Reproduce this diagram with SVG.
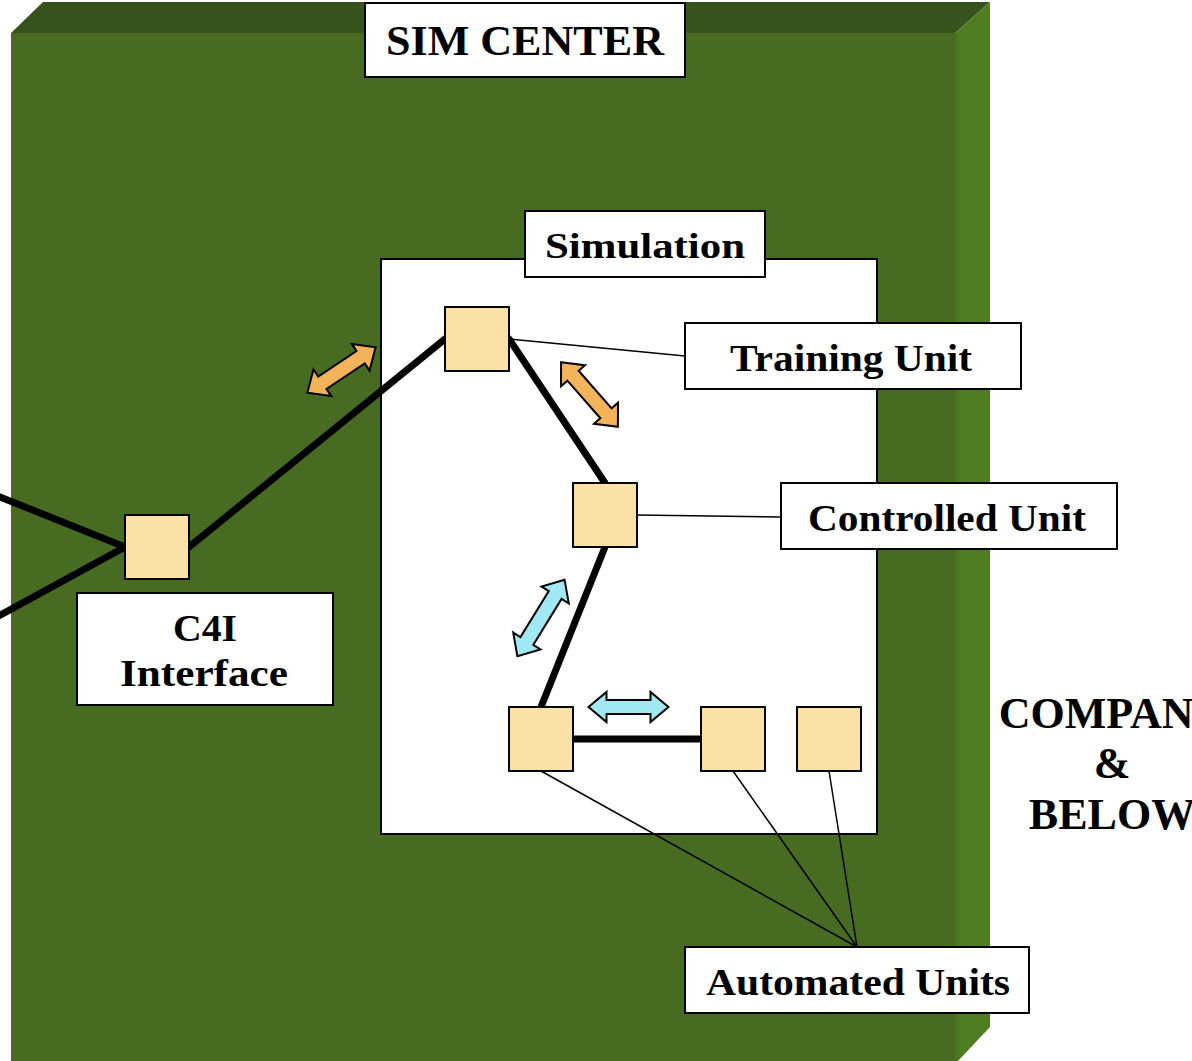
<svg xmlns="http://www.w3.org/2000/svg" width="1192" height="1061" viewBox="0 0 1192 1061">
  <style>
    .lbl { fill: #ffffff; stroke: #000000; stroke-width: 2; }
    .txt { font-family: "Liberation Serif", "DejaVu Serif", serif; font-weight: bold; fill: #000000; text-anchor: middle; }
    .sq { fill: #fae2a6; stroke: #000000; stroke-width: 2; }
    .thick { stroke: #000000; stroke-width: 7; stroke-linecap: round; fill: none; }
    .thin { stroke: #000000; stroke-width: 1.5; fill: none; }
    .orange { fill: #f2b35a; stroke: #000000; stroke-width: 2; stroke-linejoin: miter; }
    .cyan { fill: #a0e8f2; stroke: #000000; stroke-width: 2; stroke-linejoin: miter; }
  </style>

  <!-- Sim center block (3D box) -->
  <g id="sim-center-box">
    <polygon points="11,33 43,2 990,2 955,33" fill="#35531a"/>
    <polygon points="955,33 990,2 990,1027 958,1061 955,1061" fill="#4f7d22"/>
    <rect x="11" y="33" width="944" height="1028" fill="#476b21"/>
    <rect x="955" y="33" width="3" height="1028" fill="#4b7521"/>
  </g>

  <g id="sim-center-label">
    <rect class="lbl" x="365" y="3" width="320" height="74"/>
    <text class="txt" x="525" y="55" font-size="42" textLength="278" lengthAdjust="spacingAndGlyphs">SIM CENTER</text>
  </g>

  <!-- Simulation panel -->
  <g id="simulation">
    <rect class="lbl" x="381" y="259" width="496" height="575"/>
    <rect class="lbl" x="525" y="211" width="240" height="66"/>
    <text class="txt" x="645" y="258" font-size="36" textLength="200" lengthAdjust="spacingAndGlyphs">Simulation</text>
  </g>

  <!-- Connectors -->
  <g id="connectors">
    <line class="thick" x1="-5" y1="495" x2="125" y2="547"/>
    <line class="thick" x1="-5" y1="618" x2="125" y2="547"/>
    <line class="thick" x1="189" y1="547" x2="445" y2="339"/>
    <line class="thick" x1="509" y1="339" x2="605" y2="483"/>
    <line class="thick" x1="605" y1="547" x2="541" y2="707"/>
    <line class="thick" x1="573" y1="739" x2="701" y2="739"/>
    <line class="thin" x1="509" y1="339" x2="685" y2="356"/>
    <line class="thin" x1="637" y1="515" x2="781" y2="517"/>
    <line class="thin" x1="541" y1="771" x2="857" y2="947"/>
    <line class="thin" x1="733" y1="771" x2="857" y2="947"/>
    <line class="thin" x1="829" y1="771" x2="857" y2="947"/>
  </g>

  <!-- Unit nodes -->
  <g id="training-unit-node"><rect class="sq" x="445" y="307" width="64" height="64"/></g>
  <g id="controlled-unit-node"><rect class="sq" x="573" y="483" width="64" height="64"/></g>
  <g id="c4i-node"><rect class="sq" x="125" y="515" width="64" height="64"/></g>
  <g id="automated-unit-1"><rect class="sq" x="509" y="707" width="64" height="64"/></g>
  <g id="automated-unit-2"><rect class="sq" x="701" y="707" width="64" height="64"/></g>
  <g id="automated-unit-3"><rect class="sq" x="797" y="707" width="64" height="64"/></g>

  <!-- Exchange arrows -->
  <g id="exchange-arrows">
    <path class="orange" transform="translate(341.5,370) rotate(-33.7)" d="M-41,0 L-23,-16 L-23,-7.5 L23,-7.5 L23,-16 L41,0 L23,16 L23,7.5 L-23,7.5 L-23,16 Z"/>
    <path class="orange" transform="translate(589.5,394.5) rotate(48.7)" d="M-43,0 L-25,-16 L-25,-7.5 L25,-7.5 L25,-16 L43,0 L25,16 L25,7.5 L-25,7.5 L-25,16 Z"/>
    <path class="cyan" transform="translate(541,618) rotate(-58.4)" d="M-45,0 L-27,-16 L-27,-7.5 L27,-7.5 L27,-16 L45,0 L27,16 L27,7.5 L-27,7.5 L-27,16 Z"/>
    <path class="cyan" transform="translate(628.5,707)" d="M-40,0 L-22,-15 L-22,-7 L22,-7 L22,-15 L40,0 L22,15 L22,7 L-22,7 L-22,15 Z"/>
  </g>

  <!-- Labels -->
  <g id="training-unit-label">
    <rect class="lbl" x="685" y="323" width="336" height="66"/>
    <text class="txt" x="851" y="371" font-size="38" textLength="242" lengthAdjust="spacingAndGlyphs">Training Unit</text>
  </g>
  <g id="controlled-unit-label">
    <rect class="lbl" x="781" y="483" width="336" height="66"/>
    <text class="txt" x="947" y="531" font-size="38" textLength="278" lengthAdjust="spacingAndGlyphs">Controlled Unit</text>
  </g>
  <g id="c4i-label">
    <rect class="lbl" x="77" y="593" width="256" height="112"/>
    <text class="txt" x="205" y="641" font-size="38" textLength="64" lengthAdjust="spacingAndGlyphs">C4I</text>
    <text class="txt" x="204" y="686" font-size="38" textLength="168" lengthAdjust="spacingAndGlyphs">Interface</text>
  </g>
  <g id="automated-units-label">
    <rect class="lbl" x="685" y="947" width="344" height="66"/>
    <text class="txt" x="858" y="995" font-size="38" textLength="304" lengthAdjust="spacingAndGlyphs">Automated Units</text>
  </g>
  <g id="company-label">
    <text class="txt" x="1112" y="728" font-size="44">COMPANY</text>
    <text class="txt" x="1112" y="778" font-size="44">&amp;</text>
    <text class="txt" x="1112" y="829" font-size="44">BELOW</text>
  </g>
</svg>
